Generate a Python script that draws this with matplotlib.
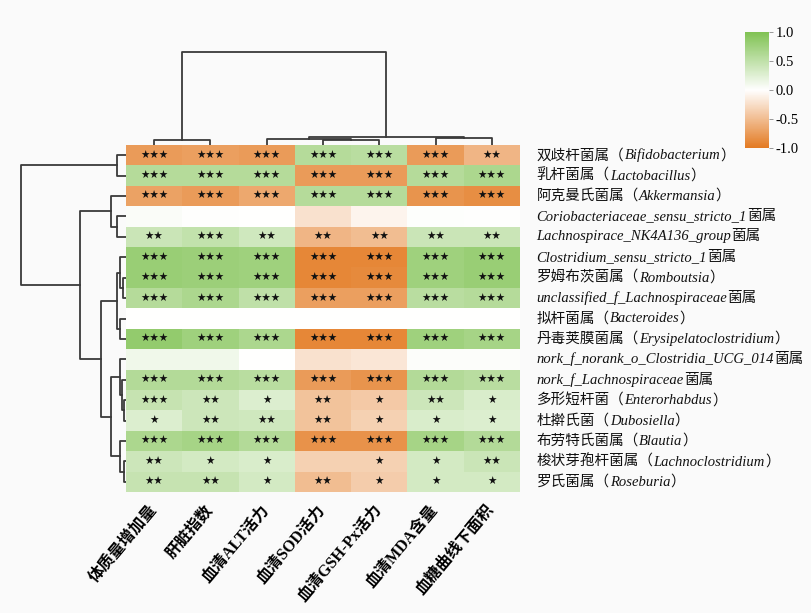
import numpy as np
import matplotlib.pyplot as plt
from matplotlib.colors import LinearSegmentedColormap
from matplotlib.offsetbox import TextArea, HPacker, AnnotationBbox

plt.rcParams['font.family'] = ['Liberation Serif', 'Noto Sans CJK SC']
plt.rcParams['axes.unicode_minus'] = False

# 指标（列）
traits = ['体质量增加量', '肝脏指数', '血清ALT活力', '血清SOD活力',
          '血清GSH-Px活力', '血清MDA含量', '血糖曲线下面积']

# 菌属标签（文字, 是否斜体）
genus_labels = [
    [('双歧杆菌属（', 0), ('Bifidobacterium', 1), ('）', 0)],
    [('乳杆菌属（', 0), ('Lactobacillus', 1), ('）', 0)],
    [('阿克曼氏菌属（', 0), ('Akkermansia', 1), ('）', 0)],
    [('Coriobacteriaceae_sensu_stricto_1', 1), ('菌属', 0)],
    [('Lachnospirace_NK4A136_group', 1), ('菌属', 0)],
    [('Clostridium_sensu_stricto_1', 1), ('菌属', 0)],
    [('罗姆布茨菌属（', 0), ('Romboutsia', 1), ('）', 0)],
    [('unclassified_f_Lachnospiraceae', 1), ('菌属', 0)],
    [('拟杆菌属（', 0), ('Bacteroides', 1), ('）', 0)],
    [('丹毒荚膜菌属（', 0), ('Erysipelatoclostridium', 1), ('）', 0)],
    [('nork_f_norank_o_Clostridia_UCG_014', 1), ('菌属', 0)],
    [('nork_f_Lachnospiraceae', 1), ('菌属', 0)],
    [('多形短杆菌（', 0), ('Enterorhabdus', 1), ('）', 0)],
    [('杜擀氏菌（', 0), ('Dubosiella', 1), ('）', 0)],
    [('布劳特氏菌属（', 0), ('Blautia', 1), ('）', 0)],
    [('梭状芽孢杆菌属（', 0), ('Lachnoclostridium', 1), ('）', 0)],
    [('罗氏菌属（', 0), ('Roseburia', 1), ('）', 0)],
]

# 相关系数（按图中颜色估计）
r_values = np.array([
    [-0.75, -0.72, -0.75,  0.58,  0.55, -0.75, -0.55],
    [ 0.58,  0.58,  0.58, -0.75, -0.75,  0.58,  0.65],
    [-0.70, -0.75, -0.65,  0.58,  0.58, -0.80, -0.85],
    [ 0.04,  0.01,  0.00, -0.22, -0.08,  0.02,  0.01],
    [ 0.42,  0.48,  0.38, -0.55, -0.50,  0.42,  0.42],
    [ 0.80,  0.78,  0.75, -0.90, -0.90,  0.75,  0.80],
    [ 0.80,  0.78,  0.75, -0.90, -0.88,  0.75,  0.80],
    [ 0.58,  0.65,  0.50, -0.72, -0.72,  0.55,  0.58],
    [ 0.00,  0.00,  0.00,  0.00,  0.00,  0.00,  0.00],
    [ 0.85,  0.75,  0.65, -0.90, -0.90,  0.75,  0.70],
    [ 0.12,  0.12,  0.00, -0.22, -0.18,  0.03,  0.03],
    [ 0.60,  0.60,  0.55, -0.75, -0.80,  0.60,  0.55],
    [ 0.45,  0.40,  0.28, -0.45, -0.40,  0.40,  0.30],
    [ 0.28,  0.40,  0.38, -0.45, -0.35,  0.30,  0.28],
    [ 0.65,  0.70,  0.60, -0.82, -0.82,  0.70,  0.60],
    [ 0.40,  0.35,  0.30, -0.35, -0.35,  0.35,  0.42],
    [ 0.45,  0.45,  0.35, -0.50, -0.38,  0.35,  0.35],
])

# 显著性标记
stars = [
    ['***', '***', '***', '***', '***', '***', '**'],
    ['***', '***', '***', '***', '***', '***', '***'],
    ['***', '***', '***', '***', '***', '***', '***'],
    ['', '', '', '', '', '', ''],
    ['**', '***', '**', '**', '**', '**', '**'],
    ['***', '***', '***', '***', '***', '***', '***'],
    ['***', '***', '***', '***', '***', '***', '***'],
    ['***', '***', '***', '***', '***', '***', '***'],
    ['', '', '', '', '', '', ''],
    ['***', '***', '***', '***', '***', '***', '***'],
    ['', '', '', '', '', '', ''],
    ['***', '***', '***', '***', '***', '***', '***'],
    ['***', '**', '*', '**', '*', '**', '*'],
    ['*', '**', '**', '**', '*', '*', '*'],
    ['***', '***', '***', '***', '***', '***', '***'],
    ['**', '*', '*', '', '*', '*', '**'],
    ['**', '**', '*', '**', '*', '*', '*'],
]

# 聚类树（scipy linkage 形式：子节点a, 子节点b, 高度）
col_linkage = [
    (0, 1, 5), (3, 4, 5), (2, 8, 6), (5, 6, 6.5), (9, 10, 7.5), (7, 11, 93),
]
row_linkage = [
    (0, 1, 9), (3, 4, 9), (2, 18, 15), (6, 7, 3), (5, 20, 6), (8, 9, 6),
    (21, 22, 9.3), (12, 13, 1.5), (11, 24, 4), (10, 25, 6), (15, 16, 1.5),
    (14, 27, 6), (26, 28, 15.3), (23, 29, 25.3), (19, 30, 46), (17, 31, 105),
]


def draw_dendro(ax, links, n, side):
    pos = {i: i + 0.5 for i in range(n)}
    hgt = {i: 0.0 for i in range(n)}
    for k, (a, b, h) in enumerate(links):
        pa, pb = pos[a], pos[b]
        if side == 'top':
            ax.plot([pa, pa, pb, pb], [hgt[a], h, h, hgt[b]], color='#3a3a3a', lw=1.3)
        else:
            ax.plot([hgt[a], h, h, hgt[b]], [pa, pa, pb, pb], color='#3a3a3a', lw=1.3)
        pos[n + k] = (pa + pb) / 2
        hgt[n + k] = h


W, H = 812, 613
bg = '#fafafa'
fig = plt.figure(figsize=(W / 100, H / 100), dpi=100, facecolor=bg)


def px_axes(x0, y0, x1, y1):
    return fig.add_axes([x0 / W, 1 - y1 / H, (x1 - x0) / W, (y1 - y0) / H])


cmap = LinearSegmentedColormap.from_list('og', ['#e37a22', '#ffffff', '#80c253'])

n_rows, n_cols = r_values.shape
ax = px_axes(126, 145, 520, 492)
im = ax.pcolormesh(np.arange(n_cols + 1), np.arange(n_rows + 1), r_values,
                   cmap=cmap, vmin=-1, vmax=1)
ax.set_xlim(0, n_cols)
ax.set_ylim(n_rows, 0)
for s in ax.spines.values():
    s.set_visible(False)
ax.set_yticks([])
ax.set_xticks(np.arange(n_cols) + 0.5)
ax.set_xticklabels(traits, rotation=50, ha='right', va='center',
                   rotation_mode='anchor', fontsize=11.5, fontweight='bold')
ax.tick_params(axis='x', length=0, pad=11)

for i in range(n_rows):
    for j in range(n_cols):
        if stars[i][j]:
            ax.text(j + 0.5, i + 0.52, stars[i][j].replace('*', '★'), ha='center', va='center',
                    fontsize=7.6, family='DejaVu Sans', color='#111111')

# 行标签（中文+斜体拉丁名）
for i, pieces in enumerate(genus_labels):
    boxes = [TextArea(t, textprops=dict(fontsize=10.5, fontstyle='italic' if it else 'normal',
                                        color='#111111'))
             for t, it in pieces]
    pack = HPacker(children=boxes, align='baseline', pad=0, sep=0)
    ab = AnnotationBbox(pack, (n_cols, i + 0.5), xybox=(12, 0), xycoords='data',
                        boxcoords='offset points', box_alignment=(0, 0.5),
                        frameon=False, annotation_clip=False)
    ax.add_artist(ab)

# 聚类树
axt = px_axes(126, 45, 520, 145)
draw_dendro(axt, col_linkage, n_cols, 'top')
axt.set_xlim(0, n_cols)
axt.set_ylim(0, 100)
axt.axis('off')

axl = px_axes(16, 145, 126, 492)
draw_dendro(axl, row_linkage, n_rows, 'left')
axl.set_xlim(110, 0)
axl.set_ylim(n_rows, 0)
axl.axis('off')

# 色标
cax = px_axes(745, 32, 769, 148)
cb = fig.colorbar(im, cax=cax, ticks=[-1, -0.5, 0, 0.5, 1], format='%.1f')
cb.outline.set_visible(False)
cax.tick_params(length=3, width=0.6, color='#888888', labelsize=10.5, pad=2)

fig.savefig('out.png', dpi=100, facecolor=bg)
